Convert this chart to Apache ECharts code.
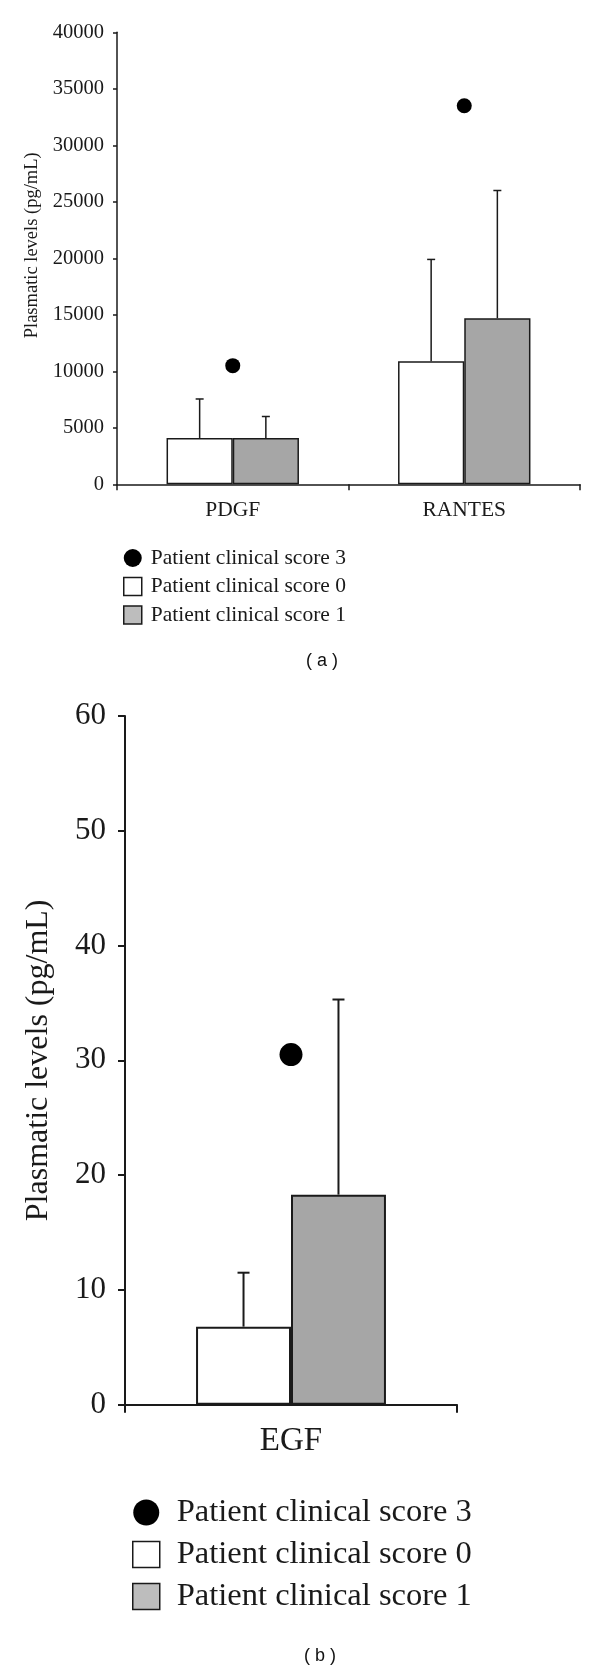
<!DOCTYPE html>
<html>
<head>
<meta charset="utf-8">
<script src="https://cdn.jsdelivr.net/npm/echarts@6/dist/echarts.min.js"></script>
<style>
html,body{margin:0;padding:0;background:#fff;}
#main{width:600px;height:1668px;}
</style>
</head>
<body>
<div id="main"></div>
<script>
// ---------- data (a) ----------
const catsA = ['PDGF', 'RANTES'];
const score0A = [4100, 10900];
const score0ErrTopA = [7550, 19900];
const score1A = [4100, 14700];
const score1ErrTopA = [6000, 26000];
const score3A = [10500, 33500];
// ---------- data (b) ----------
const catsB = ['EGF'];
const score0B = [6.8];
const score0ErrTopB = [11.5];
const score1B = [18.3];
const score1ErrTopB = [35.3];
const score3B = [30.5];

const NAME3 = 'Patient clinical score 3';
const NAME0 = 'Patient clinical score 0';
const NAME1 = 'Patient clinical score 1';
const SERIF = '"Liberation Serif", "Times New Roman", serif';
const INK = '#1a1a1a';
const GRAY = '#a6a6a6';
const BAR_RATIO = 0.286;

function errData(means, tops, side) {
  return means.map((m, i) => [i, m, tops[i], side]);
}
function makeErr(capHalf, lw) {
  return function (params, api) {
    const c = api.value(0);
    const p0 = api.coord([c, api.value(1)]);
    const p1 = api.coord([c, api.value(2)]);
    const catW = api.size([1, 0])[0];
    const x = p0[0] + api.value(3) * catW * BAR_RATIO / 2;
    const st = { stroke: INK, lineWidth: lw };
    return {
      type: 'group',
      children: [
        { type: 'line', shape: { x1: x, y1: p0[1], x2: x, y2: p1[1] }, style: st },
        { type: 'line', shape: { x1: x - capHalf, y1: p1[1], x2: x + capHalf, y2: p1[1] }, style: st }
      ]
    };
  };
}

function legendData() {
  return [
    { name: NAME3, icon: 'circle', itemStyle: { color: '#000', borderWidth: 0, opacity: 1 } },
    { name: NAME0, icon: 'rect', itemStyle: { color: '#fff', borderColor: INK, borderWidth: 1.5, opacity: 1 } },
    { name: NAME1, icon: 'rect', itemStyle: { color: '#bdbdbd', borderColor: INK, borderWidth: 1.5, opacity: 1 } }
  ];
}
const plain = v => String(v);

const chart = echarts.init(document.getElementById('main'), null, { renderer: 'canvas' });
chart.setOption({
  backgroundColor: '#fff',
  animation: false,
  grid: [
    { left: 117, right: 20, top: 32.3, bottom: 1668 - 484.3 },
    { left: 125, right: 143, top: 716, bottom: 1668 - 1404.7 }
  ],
  xAxis: [
    {
      gridIndex: 0, type: 'category', data: catsA,
      axisLine: { lineStyle: { color: INK, width: 1.5 } },
      axisTick: { show: true, length: 6, lineStyle: { color: INK, width: 1.5 } },
      axisLabel: { fontFamily: SERIF, fontSize: 21.5, color: INK, margin: 15 }
    },
    {
      gridIndex: 1, type: 'category', data: catsB,
      axisLine: { lineStyle: { color: INK, width: 2 } },
      axisTick: { show: true, length: 8, lineStyle: { color: INK, width: 2 } },
      axisLabel: { fontFamily: SERIF, fontSize: 33, color: INK, margin: 20 }
    }
  ],
  yAxis: [
    {
      gridIndex: 0, type: 'value', min: 0, max: 40000, interval: 5000,
      axisLine: { show: true, lineStyle: { color: INK, width: 1.5 } },
      axisTick: { show: true, length: 4, lineStyle: { color: INK, width: 1.5 } },
      splitLine: { show: false },
      axisLabel: { fontFamily: SERIF, fontSize: 20.5, color: INK, margin: 13, formatter: plain },
      name: 'Plasmatic levels (pg/mL)', nameLocation: 'middle', nameRotate: 90, nameGap: 73,
      nameTextStyle: { fontFamily: SERIF, fontSize: 18.5, color: INK, padding: [0, 0, 0, 26] }
    },
    {
      gridIndex: 1, type: 'value', min: 0, max: 60, interval: 10,
      axisLine: { show: true, lineStyle: { color: INK, width: 2 } },
      axisTick: { show: true, length: 7, lineStyle: { color: INK, width: 2 } },
      splitLine: { show: false },
      axisLabel: { fontFamily: SERIF, fontSize: 31, color: INK, margin: 19, formatter: plain },
      name: 'Plasmatic levels (pg/mL)', nameLocation: 'middle', nameRotate: 90, nameGap: 70,
      nameTextStyle: { fontFamily: SERIF, fontSize: 32, color: INK }
    }
  ],
  legend: [
    {
      data: legendData(),
      orient: 'vertical', left: 118, top: 542,
      itemWidth: 18, itemHeight: 18, itemGap: 6.5,
      selectedMode: false,
      textStyle: { fontFamily: SERIF, fontSize: 21.5, color: INK, lineHeight: 21.5, padding: [0, 0, 0, 4] }
    },
    {
      data: legendData(),
      orient: 'vertical', left: 127, top: 1491,
      itemWidth: 27, itemHeight: 26, itemGap: 9,
      selectedMode: false,
      textStyle: { fontFamily: SERIF, fontSize: 32.5, color: INK, lineHeight: 32, padding: [0, 0, 0, 12] }
    }
  ],
  graphic: [
    { type: 'text', top: 652, left: 306, style: { text: '( a )', font: '18px "Liberation Sans", Arial, sans-serif', fill: '#111' } },
    { type: 'text', top: 1647, left: 304, style: { text: '( b )', font: '18px "Liberation Sans", Arial, sans-serif', fill: '#111' } }
  ],
  series: [
    // ----- (a) -----
    {
      name: NAME0, type: 'bar', xAxisIndex: 0, yAxisIndex: 0, data: score0A,
      barWidth: (BAR_RATIO * 100) + '%', barGap: '0%',
      itemStyle: { color: '#fff', borderColor: INK, borderWidth: 1.5 }
    },
    {
      name: NAME1, type: 'bar', xAxisIndex: 0, yAxisIndex: 0, data: score1A,
      barWidth: (BAR_RATIO * 100) + '%', barGap: '0%',
      itemStyle: { color: GRAY, borderColor: INK, borderWidth: 1.5 }
    },
    {
      type: 'custom', xAxisIndex: 0, yAxisIndex: 0, z: 5,
      renderItem: makeErr(4, 1.5), data: errData(score0A, score0ErrTopA, -1)
    },
    {
      type: 'custom', xAxisIndex: 0, yAxisIndex: 0, z: 5,
      renderItem: makeErr(4, 1.5), data: errData(score1A, score1ErrTopA, 1)
    },
    {
      name: NAME3, type: 'scatter', xAxisIndex: 0, yAxisIndex: 0, data: score3A,
      symbol: 'circle', symbolSize: 15, itemStyle: { color: '#000', opacity: 1 }
    },
    // ----- (b) -----
    {
      name: NAME0, type: 'bar', xAxisIndex: 1, yAxisIndex: 1, data: score0B,
      barWidth: (BAR_RATIO * 100) + '%', barGap: '0%',
      itemStyle: { color: '#fff', borderColor: INK, borderWidth: 2 }
    },
    {
      name: NAME1, type: 'bar', xAxisIndex: 1, yAxisIndex: 1, data: score1B,
      barWidth: (BAR_RATIO * 100) + '%', barGap: '0%',
      itemStyle: { color: GRAY, borderColor: INK, borderWidth: 2 }
    },
    {
      type: 'custom', xAxisIndex: 1, yAxisIndex: 1, z: 5,
      renderItem: makeErr(6, 2), data: errData(score0B, score0ErrTopB, -1)
    },
    {
      type: 'custom', xAxisIndex: 1, yAxisIndex: 1, z: 5,
      renderItem: makeErr(6, 2), data: errData(score1B, score1ErrTopB, 1)
    },
    {
      name: NAME3, type: 'scatter', xAxisIndex: 1, yAxisIndex: 1, data: score3B,
      symbol: 'circle', symbolSize: 23, itemStyle: { color: '#000', opacity: 1 }
    }
  ]
});
</script>
</body>
</html>
